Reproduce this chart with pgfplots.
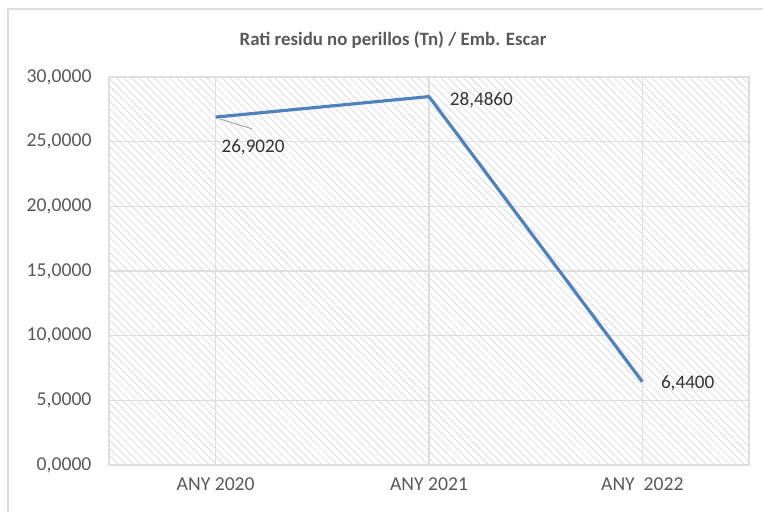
\documentclass[border=0pt]{standalone}
\usepackage{fontspec}
\setmainfont{Carlito}
\usepackage{pgfplots}
\pgfplotsset{compat=1.18}
\usetikzlibrary{patterns.meta}
\definecolor{serie}{RGB}{79,129,189}
\definecolor{txt}{RGB}{89,89,89}
\definecolor{grd}{RGB}{222,222,222}
\begin{document}
\begin{tikzpicture}[x=0.6pt,y=0.6pt]
\path[use as bounding box] (0,0) rectangle (763,512);
% chart frame
\draw[grd, line width=1.2pt] (8,0) -- (8,503) -- (763,503);
\node[font=\bfseries\fontsize{11.3}{13}\selectfont, text=txt] at (393,472) {Rati residu no perillos (Tn) / Emb. Escar};
\begin{axis}[
  at={(65.4pt,28.2pt)}, anchor=south west,
  scale only axis, width=384pt, height=232.8pt,
  xmin=-0.5, xmax=2.5, ymin=0, ymax=30,
  xtick={0,1,2}, xticklabels={ANY 2020, ANY 2021, ANY\ \ 2022},
  ytick={0,5,...,30},
  yticklabel={\pgfmathprintnumber[fixed, fixed zerofill, precision=4, use comma]{\tick}},
  /pgf/number format/assume math mode=true,
  ticklabel style={font=\fontsize{11.8}{14}\selectfont, text=txt},
  yticklabel style={xshift=-7pt},
  xticklabel style={yshift=-4pt},
  major tick length=0pt,
  grid=major, grid style={grd, line width=0.7pt},
  axis line style={grd, line width=0.8pt},
  axis background/.style={pattern={Lines[angle=-45, distance=3.2pt, line width=0.5pt]}, pattern color=grd},
  clip=false,
]
\addplot[serie, line width=1.9pt, line join=round] coordinates {(0,26.902) (1,28.486) (2,6.44)};
\draw[gray!70, line width=0.6pt] (axis cs:0.02,26.75) -- (axis cs:0.17,26.0);
\node[font=\fontsize{11.5}{13}\selectfont, text=black!80, anchor=west] at (axis cs:0.0,24.6) {26,9020};
\node[font=\fontsize{11.5}{13}\selectfont, text=black!80, anchor=west] at (axis cs:1.07,28.2) {28,4860};
\node[font=\fontsize{11.5}{13}\selectfont, text=black!80, anchor=west] at (axis cs:2.06,6.35) {6,4400};
\end{axis}
\end{tikzpicture}
\end{document}
